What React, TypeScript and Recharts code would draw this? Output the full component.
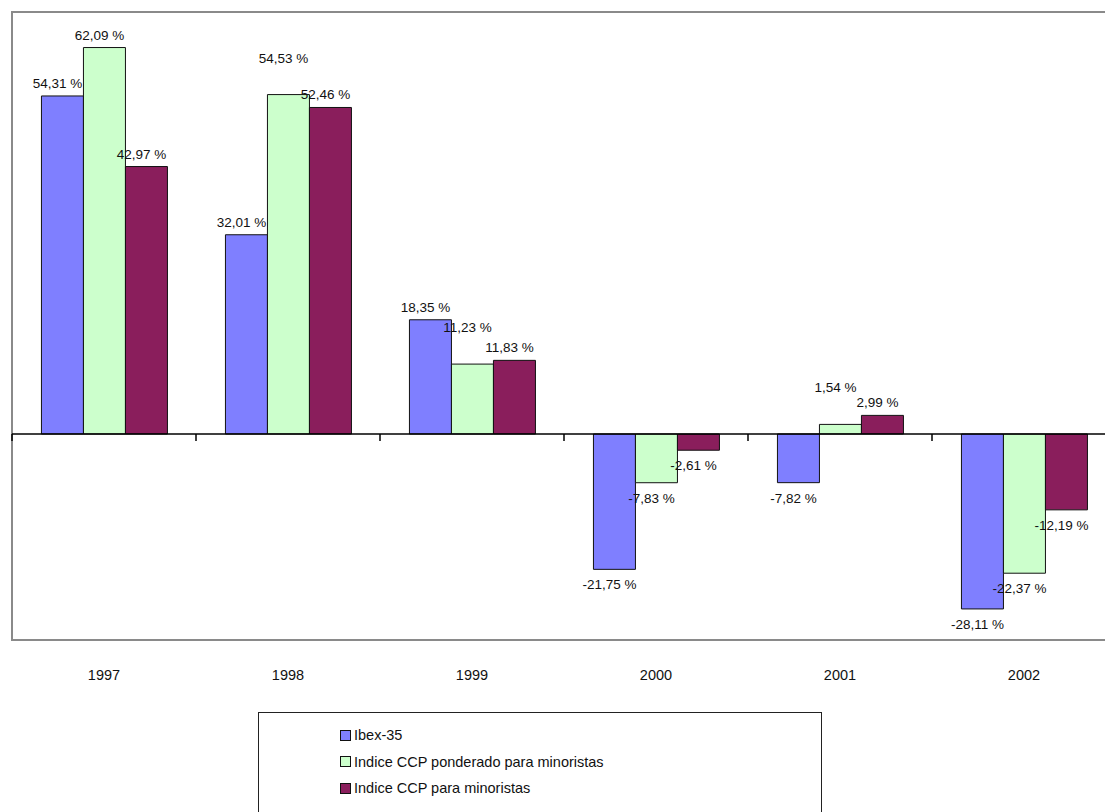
import React from 'react';
import { BarChart, Bar, XAxis, YAxis, ReferenceLine, ReferenceArea, LabelList, Legend } from 'recharts';

const years = ['1997', '1998', '1999', '2000', '2001', '2002'];
const ibex = [54.31, 32.01, 18.35, -21.75, -7.82, -28.11];
const ccpPonderado = [62.09, 54.53, 11.23, -7.83, 1.54, -22.37];
const ccpMinoristas = [42.97, 52.46, 11.83, -2.61, 2.99, -12.19];

const seriesNames = ['Ibex-35', 'Indice CCP ponderado para minoristas', 'Indice CCP para minoristas'];
const colors = ['#7F7FFF', '#CCFFCC', '#8A1E5C'];

const yDomain: [number, number] = [-33.1, 67.8];

const data = years.map((year, i) => ({
  year,
  ibex: ibex[i],
  ponderado: ccpPonderado[i],
  minoristas: ccpMinoristas[i],
}));

const FONT = '"Liberation Sans", Arial, sans-serif';

const fmt = (v: number) => `${v.toFixed(2).replace('.', ',')} %`;

// value label: above positive bars, below negative ones, nudged a little left
const makeLabel = (lift?: (i: number) => number) => (props: any) => {
  const { x, y, width, height, value, index } = props;
  const top = Math.min(y, y + height);
  const bottom = Math.max(y, y + height);
  const cx = x + width / 2 - 5;
  const extra = lift ? lift(index) : 0;
  const ty = value >= 0 ? top - 8 - extra : bottom + 20;
  return (
    <text x={cx} y={ty} textAnchor="middle" fontFamily={FONT} fontSize={13.5} fill="#111">
      {fmt(value)}
    </text>
  );
};

// the middle series' label moves up when its neighbour bar is about as tall
const ponderadoLift = (i: number) =>
  ccpPonderado[i] > 0 && Math.abs(ccpPonderado[i] - ccpMinoristas[i]) < 5 ? 24 : 0;

const ibexLabel = makeLabel();
const ponderadoLabel = makeLabel(ponderadoLift);
const minoristasLabel = makeLabel();

// zero line with tick marks hanging down at the category boundaries
const ZeroLine = (props: any) => {
  const { x1, y1, x2, y2 } = props;
  const step = (x2 - x1) / years.length;
  return (
    <g>
      <line x1={x1} y1={y1} x2={x2} y2={y2} stroke="#000" strokeWidth={1.5} />
      {years.concat(['']).map((_, i) => (
        <line key={i} x1={x1 + i * step} x2={x1 + i * step} y1={y1} y2={y1 + 7} stroke="#000" strokeWidth={1.5} />
      ))}
    </g>
  );
};

const LegendBox = (props: any) => {
  const payload = [...(props.payload || [])].sort(
    (a: any, b: any) => seriesNames.indexOf(a.value) - seriesNames.indexOf(b.value),
  );
  return (
    <div
      style={{
        border: '1px solid #222',
        boxSizing: 'border-box',
        height: '100%',
        paddingLeft: 81,
        paddingTop: 9,
        fontFamily: FONT,
        fontSize: 14.5,
        color: '#111',
        background: '#fff',
      }}
    >
      {payload.map((p: any) => (
        <div key={p.value} style={{ display: 'flex', alignItems: 'center', height: 26.5 }}>
          <span
            style={{
              display: 'inline-block',
              width: 9,
              height: 9,
              border: '1.5px solid #111',
              background: p.color,
              marginRight: 3,
            }}
          />
          {p.value}
        </div>
      ))}
    </div>
  );
};

export default function App() {
  return (
    <div style={{ position: 'absolute', left: 0, top: 0, width: 1105, height: 812, overflow: 'hidden', background: '#fff' }}>
      <BarChart
        width={1130}
        height={830}
        data={data}
        margin={{ top: 12, right: 14, bottom: 0, left: 12 }}
        barCategoryGap="16%"
        barGap={0}
      >
        <XAxis
          dataKey="year"
          axisLine={false}
          tickLine={false}
          height={72}
          tickMargin={24}
          tick={{ fontFamily: FONT, fontSize: 14.5, fill: '#111' }}
          interval={0}
        />
        <YAxis width={0} domain={yDomain} hide />
        {/* plot frame */}
        <ReferenceArea y1={yDomain[0]} y2={yDomain[1]} fill="none" stroke="#8a8a8a" strokeWidth={2} ifOverflow="visible" />
        <Legend
          verticalAlign="bottom"
          height={118}
          content={LegendBox}
          wrapperStyle={{ left: 258, width: 564, height: 118 }}
        />
        <Bar dataKey="ibex" name={seriesNames[0]} fill={colors[0]} stroke="#111" strokeWidth={1} isAnimationActive={false}>
          <LabelList dataKey="ibex" content={ibexLabel} />
        </Bar>
        <Bar dataKey="ponderado" name={seriesNames[1]} fill={colors[1]} stroke="#111" strokeWidth={1} isAnimationActive={false}>
          <LabelList dataKey="ponderado" content={ponderadoLabel} />
        </Bar>
        <Bar dataKey="minoristas" name={seriesNames[2]} fill={colors[2]} stroke="#111" strokeWidth={1} isAnimationActive={false}>
          <LabelList dataKey="minoristas" content={minoristasLabel} />
        </Bar>
        <ReferenceLine y={0} shape={ZeroLine} ifOverflow="visible" />
      </BarChart>
    </div>
  );
}
